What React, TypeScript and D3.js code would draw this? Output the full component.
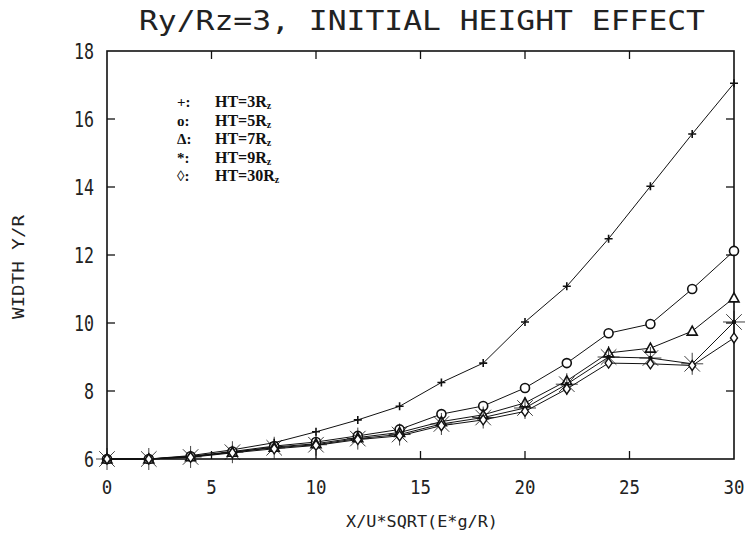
import React from 'react';
import * as d3 from 'd3';

// values, x = 0..30 step 2
const xValues = [0, 2, 4, 6, 8, 10, 12, 14, 16, 18, 20, 22, 24, 26, 28, 30];
const ht3 = [6, 6, 6.1, 6.27, 6.48, 6.8, 7.15, 7.55, 8.25, 8.82, 10.03, 11.08, 12.48, 14.02, 15.56, 17.05];
const ht5 = [6, 6, 6.08, 6.22, 6.38, 6.5, 6.68, 6.87, 7.32, 7.56, 8.09, 8.82, 9.7, 9.97, 11.0, 12.12];
const ht7 = [6, 6, 6.07, 6.2, 6.35, 6.45, 6.63, 6.78, 7.1, 7.3, 7.65, 8.3, 9.12, 9.26, 9.76, 10.74];
const ht9 = [6, 6, 6.06, 6.2, 6.33, 6.42, 6.6, 6.72, 7.03, 7.22, 7.5, 8.2, 9.0, 8.97, 8.8, 10.03];
const ht30 = [6, 6, 6.05, 6.18, 6.3, 6.4, 6.57, 6.68, 6.98, 7.15, 7.4, 8.06, 8.82, 8.8, 8.75, 9.56];

const legendSymbols = ['+:', 'o:', '\u0394:', '*:', '\u25CA:'];
const legendLabels = ['HT=3R', 'HT=5R', 'HT=7R', 'HT=9R', 'HT=30R'];
const markerKinds = ['plus', 'circle', 'triangle', 'star', 'diamond'];

const xTicks = [0, 5, 10, 15, 20, 25, 30];
const yTicks = [6, 8, 10, 12, 14, 16, 18];

const title = 'Ry/Rz=3, INITIAL HEIGHT EFFECT';
const xLabel = 'X/U*SQRT(E*g/R)';
const yLabel = 'WIDTH Y/R';

const W = 747;
const H = 553;
const margin = { top: 51, right: 13, bottom: 94, left: 107 };
const mono = '"DejaVu Sans Mono", monospace';
const ink = '#111';

// draws one marker centred on (cx, cy)
const Marker = ({ kind, cx, cy }: { kind: string; cx: number; cy: number }) => {
    const t = `translate(${cx},${cy})`;
    if (kind === 'plus') {
        return <path transform={t} d="M-4,0H4M0,-4V4" stroke={ink} strokeWidth={1.6} />;
    }
    if (kind === 'circle') {
        return <circle cx={cx} cy={cy} r={4.5} fill="white" stroke={ink} strokeWidth={1.6} />;
    }
    if (kind === 'triangle') {
        return <path transform={t} d="M0,-5L5,4L-5,4Z" fill="white" stroke={ink} strokeWidth={1.6} />;
    }
    if (kind === 'star') {
        const r = 11;
        const d = r * Math.SQRT1_2;
        return (
            <g transform={t}>
                <path d={`M${-r},0H${r}M0,${-r}V${r}M${-d},${-d}L${d},${d}M${-d},${d}L${d},${-d}`} stroke={ink} strokeWidth={0.8} />
                <circle r={2.2} fill={ink} />
            </g>
        );
    }
    return <path transform={t} d="M0,-5L3.5,0L0,5L-3.5,0Z" fill="white" stroke={ink} strokeWidth={1.4} />;
};

export default function App() {
    const series = [ht3, ht5, ht7, ht9, ht30];
    const innerW = W - margin.left - margin.right;
    const innerH = H - margin.top - margin.bottom;

    const x = d3.scaleLinear().domain([0, 30]).range([margin.left, margin.left + innerW]);
    const y = d3.scaleLinear().domain([6, 18]).range([margin.top + innerH, margin.top]);

    const line = d3.line<[number, number]>()
        .x(d => x(d[0]))
        .y(d => y(d[1]));

    const x0 = x(0), x1 = x(30), y0 = y(6), y1 = y(18);

    return (
        <svg width={W} height={H} style={{ position: 'absolute', left: 0, top: 0, background: 'white' }}>
            {/* title */}
            <text x={422} y={30} textAnchor="middle" fontFamily={mono} fontSize={26} fill="#222"
                textLength={566} lengthAdjust="spacingAndGlyphs">{title}</text>

            {/* frame */}
            <rect x={x0} y={y1} width={x1 - x0} height={y0 - y1} fill="none" stroke={ink} strokeWidth={1.6} />

            {/* inward ticks on all four sides */}
            {xTicks.slice(1, -1).map(t => (
                <g key={'xt' + t}>
                    <line x1={x(t)} x2={x(t)} y1={y0} y2={y0 - 8} stroke={ink} strokeWidth={1.3} />
                    <line x1={x(t)} x2={x(t)} y1={y1} y2={y1 + 8} stroke={ink} strokeWidth={1.3} />
                </g>
            ))}
            {yTicks.slice(1, -1).map(t => (
                <g key={'yt' + t}>
                    <line x1={x0} x2={x0 + 8} y1={y(t)} y2={y(t)} stroke={ink} strokeWidth={1.3} />
                    <line x1={x1} x2={x1 - 8} y1={y(t)} y2={y(t)} stroke={ink} strokeWidth={1.3} />
                </g>
            ))}

            {/* tick labels */}
            {xTicks.map(t => (
                <text key={'xl' + t} x={x(t)} y={494} textAnchor="middle" fontFamily={mono} fontSize={20} fill="#222"
                    textLength={String(t).length * 10.5} lengthAdjust="spacingAndGlyphs">{String(t)}</text>
            ))}
            {yTicks.map(t => (
                <text key={'yl' + t} x={94} y={y(t) + 7.5} textAnchor="end" fontFamily={mono} fontSize={21} fill="#222"
                    textLength={String(t).length * 10} lengthAdjust="spacingAndGlyphs">{String(t)}</text>
            ))}

            {/* axis titles */}
            <text x={422} y={527} textAnchor="middle" fontFamily={mono} fontSize={15} fill="#222"
                textLength={152} lengthAdjust="spacingAndGlyphs">{xLabel}</text>
            <text transform={`translate(24,${267}) rotate(-90)`} textAnchor="middle" fontFamily={mono} fontSize={16} fill="#222"
                textLength={104} lengthAdjust="spacingAndGlyphs">{yLabel}</text>

            {/* curves */}
            {series.map((vals, i) => (
                <path key={'ln' + i} d={line(xValues.map((v, j) => [v, vals[j]] as [number, number])) || ''}
                    fill="none" stroke={ink} strokeWidth={1} />
            ))}
            {series.map((vals, i) => (
                <g key={'mk' + i}>
                    {xValues.map((v, j) => (
                        <Marker key={j} kind={markerKinds[i]} cx={x(v)} cy={y(vals[j])} />
                    ))}
                </g>
            ))}

            {/* legend */}
            {legendLabels.map((lab, i) => {
                const rowY = 107 + i * 18.5;
                return (
                    <g key={'lg' + i} fontFamily='"Liberation Serif", serif' fontWeight="bold" fill={ink}>
                        <text x={177} y={rowY} fontSize={15}>{legendSymbols[i]}</text>
                        <text x={215} y={rowY} fontSize={16}>
                            {lab}
                            <tspan dy={2} fontSize={10}>z</tspan>
                        </text>
                    </g>
                );
            })}
        </svg>
    );
}
